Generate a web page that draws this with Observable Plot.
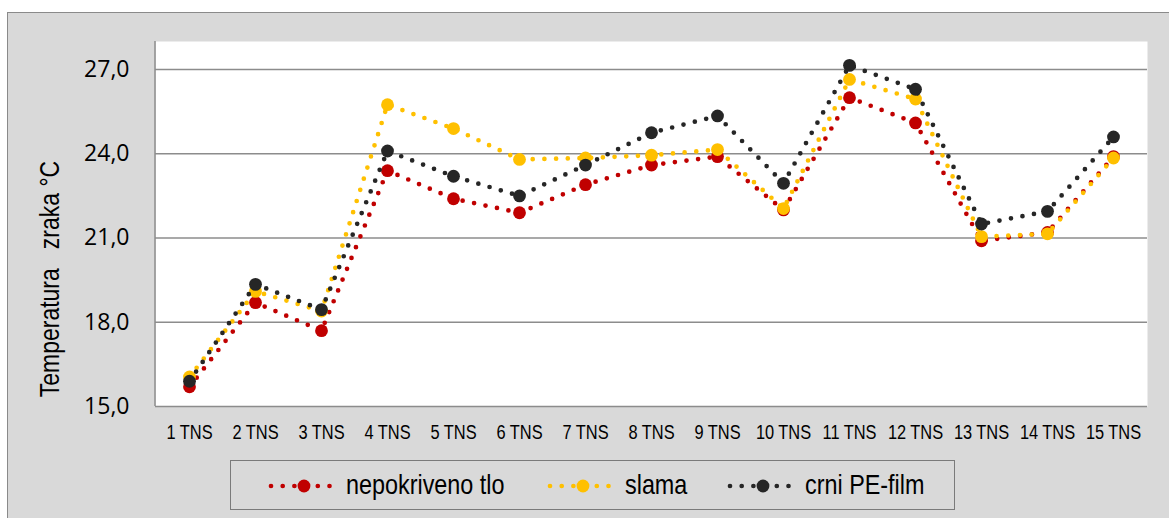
<!DOCTYPE html>
<html>
<head>
<meta charset="utf-8">
<script src="https://cdn.jsdelivr.net/npm/d3@7"></script>
<script src="https://cdn.jsdelivr.net/npm/@observablehq/plot@0.6"></script>
<style>
  html, body { margin: 0; padding: 0; background: #fff; }
  body { width: 1169px; height: 518px; overflow: hidden; position: relative;
         font-family: "Liberation Sans", Arial, sans-serif; }
  #bg { position: absolute; left: 7px; top: 12px; width: 1200px; height: 560px; background: #d9d9d9;
        border-top: 1.5px solid #8a8a8a; border-left: 1.5px solid #8a8a8a; }
  #chart { position: absolute; left: 0; top: 0; }
  #ytitle { position: absolute; left: 49.5px; top: 278.5px;
            transform: translate(-50%, -50%) rotate(-90deg) scaleX(0.82);
            white-space: pre; font-size: 28px; line-height: 1; color: #000; }
  #legend { position: absolute; left: 230px; top: 460px; width: 725px; height: 50px; box-sizing: border-box;
            border: 1.5px solid #7a7a7a; }
  .sw { position: absolute; top: 0; }
  .lt { position: absolute; top: 0; height: 47px; line-height: 47px; font-size: 28.5px; color: #000;
        white-space: pre; transform: scaleX(0.82); transform-origin: left center; }
</style>
</head>
<body>
<div id="bg"></div>
<div id="chart"></div>
<div id="ytitle"></div>
<div id="legend"></div>
<script>
const categories = ["1 TNS","2 TNS","3 TNS","4 TNS","5 TNS","6 TNS","7 TNS","8 TNS","9 TNS","10 TNS","11 TNS","12 TNS","13 TNS","14 TNS","15 TNS"];
const seriesNames = ["nepokriveno tlo", "slama", "crni PE-film"];
const seriesColors = ["#c00000", "#ffc000", "#262626"];
const nepokriveno = [15.7, 18.7, 17.7, 23.4, 22.4, 21.9, 22.9, 23.6, 23.9, 22.0, 26.0, 25.1, 20.9, 21.2, 23.9];
const slama       = [16.05, 19.1, 18.4, 25.75, 24.9, 23.8, 23.85, 23.95, 24.15, 22.05, 26.65, 25.95, 21.05, 21.15, 23.85];
const crniPE      = [15.9, 19.35, 18.45, 24.1, 23.2, 22.5, 23.6, 24.75, 25.35, 22.95, 27.15, 26.3, 21.5, 21.95, 24.6];
const yTicks = [15, 18, 21, 24, 27];
const yTitle = "Temperatura   zraka °C";

const seriesValues = [nepokriveno, slama, crniPE];
const data = seriesValues.flatMap((vals, s) => vals.map((v, i) => ({cat: categories[i], value: v, series: seriesNames[s]})));

const gridColor = "#8c8c8c";

const seriesMarks = seriesNames.flatMap((name, s) => {
  const d = data.filter(r => r.series === name);
  return [
    Plot.line(d, {x: "cat", y: "value", stroke: seriesColors[s], strokeWidth: 4.7,
                  strokeDasharray: "0 11.7", strokeLinecap: "round", strokeLinejoin: "round"}),
    Plot.dot(d, {x: "cat", y: "value", r: 6.4, fill: seriesColors[s], stroke: "none"})
  ];
});

const leftLine = (index, scales, values, dims) => {
  const g = d3.create("svg:line")
    .attr("x1", dims.marginLeft).attr("x2", dims.marginLeft)
    .attr("y1", dims.marginTop).attr("y2", dims.height - dims.marginBottom)
    .attr("stroke", gridColor).attr("stroke-width", 1.5);
  return g.node();
};

const chart = Plot.plot({
  width: 1169,
  height: 450,
  marginLeft: 155,
  marginRight: 22,
  marginTop: 41,
  marginBottom: 44,
  style: {background: "transparent", overflow: "visible"},
  x: {type: "point", domain: categories, padding: 0.5},
  y: {domain: [15, 28]},
  marks: [
    Plot.frame({fill: "white", stroke: "none"}),
    Plot.ruleY(yTicks, {stroke: gridColor, strokeWidth: 1.5}),
    leftLine,
    Plot.axisY(yTicks, {tickSize: 0, tickPadding: 26, label: null, fontSize: 23,
                        fontFamily: "Open Sans, sans-serif", fill: "#000",
                        tickFormat: d => d.toFixed(1).replace(".", ",")}),
    Plot.axisX({tickSize: 0, tickPadding: 18, label: null, fontSize: 20.5,
                fontFamily: "Liberation Sans, Arial, sans-serif", fill: "#000"}),
    ...seriesMarks
  ]
});
// condense the x tick labels horizontally (narrow font look)
d3.select(chart).selectAll('g[aria-label="x-axis tick label"] text').each(function() {
  const t = this.getAttribute("transform") || "";
  this.setAttribute("transform", t + " scale(0.8,1)");
});
document.getElementById("chart").appendChild(chart);
document.getElementById("ytitle").textContent = yTitle;

// legend
const legend = document.getElementById("legend");
const markerX = [304, 583, 763];
seriesNames.forEach((name, s) => {
  const left = markerX[s] - 230 - 1.5 - 36;
  const svg = d3.create("svg").attr("class", "sw").attr("width", 72).attr("height", 47)
    .style("left", left + "px");
  svg.append("line").attr("x1", 3).attr("x2", 70).attr("y1", 25).attr("y2", 25)
    .attr("stroke", seriesColors[s]).attr("stroke-width", 4.7)
    .attr("stroke-dasharray", "0 11.7").attr("stroke-linecap", "round");
  svg.append("circle").attr("cx", 36).attr("cy", 25).attr("r", 6.4).attr("fill", seriesColors[s]);
  legend.appendChild(svg.node());
  const t = document.createElement("div");
  t.className = "lt";
  t.style.left = (markerX[s] + 42 - 230 - 1.5) + "px";
  t.textContent = name;
  legend.appendChild(t);
});
</script>
</body>
</html>
